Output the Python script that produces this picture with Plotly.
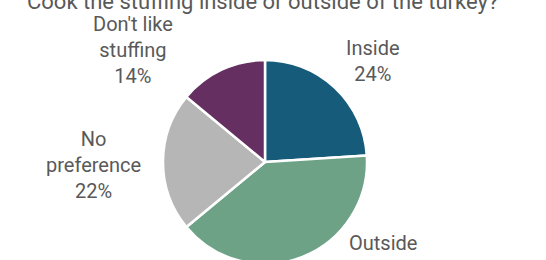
import plotly.graph_objects as go

title = "Cook the stuffing inside or outside of the turkey?"
labels = ["Inside", "Outside", "No preference", "Don't like stuffing"]
label_text = ["Inside", "Outside", "No<br>preference", "Don't like<br>stuffing"]
values = [24, 40, 22, 14]
colors = ["#175B7B", "#6EA287", "#B6B6B6", "#652F62"]

W, H = 546, 300
T, B = 60, 36
cx, r = 265, 102

fig = go.Figure(go.Pie(
    labels=labels, values=values, sort=False, direction="clockwise", rotation=0,
    marker=dict(colors=colors, line=dict(color="white", width=2.5)),
    textinfo="none", hoverinfo="label+percent",
    domain=dict(x=[(cx - r) / W, (cx + r) / W], y=[0, 1]),
    showlegend=False,
))

# label positions (pixels) for each slice
label_pos = [(373, 61), (383, 256), (93, 165), (133, 50)]
plot_h = H - T - B
for lt, v, (px, py) in zip(label_text, values, label_pos):
    fig.add_annotation(
        text=f"{lt}<br>{v}%", x=px / W, y=(H - B - py) / plot_h,
        xref="paper", yref="paper", showarrow=False,
        xanchor="center", yanchor="middle",
        font=dict(family="Roboto", size=20, color="#595959"),
    )

fig.add_annotation(
    text=title, x=262 / W, y=(H - B - 2) / plot_h, xref="paper", yref="paper",
    showarrow=False, xanchor="center", yanchor="middle",
    font=dict(family="Roboto", size=22, color="#595959"),
)

fig.update_layout(
    width=W, height=H, margin=dict(l=0, r=0, t=T, b=B),
    paper_bgcolor="white", plot_bgcolor="white",
)
fig.write_html("out.html")
